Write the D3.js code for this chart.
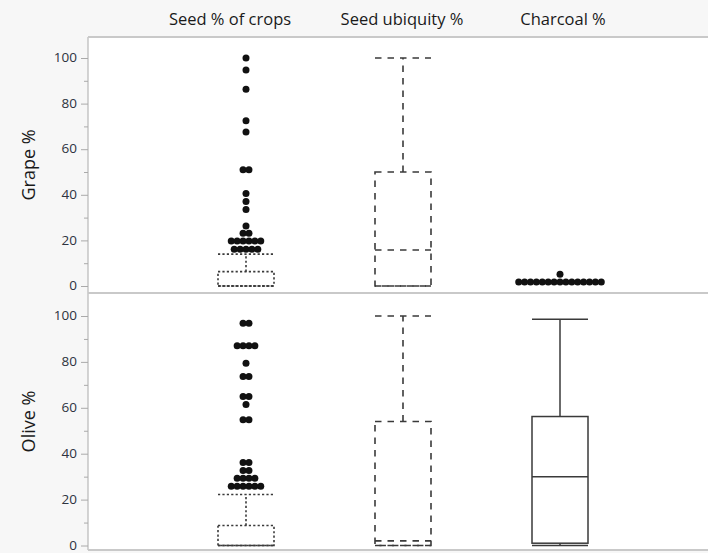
<!DOCTYPE html>
<html><head><meta charset="utf-8">
<script src="https://cdn.jsdelivr.net/npm/d3@7"></script>
<style>
html,body{margin:0;padding:0;background:#f7f7f7;}
svg{display:block;font-family:"Open Sans","Noto Sans",sans-serif;}
</style></head>
<body><svg id="chart" width="708" height="553"></svg>
<script>
// ---- data ----
const columns = ["Seed % of crops", "Seed ubiquity %", "Charcoal %"];
const rowLabels = ["Grape %", "Olive %"];
const yTicks = [0, 20, 40, 60, 80, 100];
const yMinorTicks = [10, 30, 50, 70, 90];
// box stats: [min, q1, median, q3, max]
const grapeSeedBox = [0, 0, 0, 6.3, 14];
const grapeUbiquityBox = [0, 0, 15.8, 50, 100];
const grapeCharcoalBox = null;
const oliveSeedBox = [0, 0, 0, 8.7, 22.2];
const oliveUbiquityBox = [0, 0, 2, 54, 100];
const oliveCharcoalBox = [0, 1, 30, 56.2, 98.6];
// outliers
const grapeSeedOutliers = [100, 94.7, 86.3, 72.5, 67.5, 51, 51, 40.6, 37.1, 33.6, 26.3, 23.1, 23.1,
  19.7, 19.7, 19.7, 19.7, 19.7, 19.7, 16.1, 16.1, 16.1, 16.1, 16.1];
const grapeCharcoalOutliers = [5.1, 1.8, 1.8, 1.8, 1.8, 1.8, 1.8, 1.8, 1.8, 1.8, 1.8, 1.8, 1.8, 1.8, 1.8, 1.8];
const oliveSeedOutliers = [96.8, 96.8, 87, 87, 87, 87, 79.4, 73.6, 73.6, 64.9, 64.9, 61.4, 54.8, 54.8,
  36.2, 36.2, 32.7, 32.7, 29.3, 29.3, 29.3, 29.3, 25.8, 25.8, 25.8, 25.8, 25.8, 25.8];

const panels = [
  {label: rowLabels[0], boxes: [grapeSeedBox, grapeUbiquityBox, grapeCharcoalBox],
   outliers: [grapeSeedOutliers, [], grapeCharcoalOutliers], top: 37, bottom: 293, y0: 286, y100: 58},
  {label: rowLabels[1], boxes: [oliveSeedBox, oliveUbiquityBox, oliveCharcoalBox],
   outliers: [oliveSeedOutliers, [], []], top: 293, bottom: 550, y0: 545.5, y100: 316}
];

// ---- layout ----
const svg = d3.select("#chart");
const left = 88, right = 708;
const x = d3.scalePoint().domain(columns).range([246, 560]);
const boxW = 56;
const styles = [
  {dash: "2.2,2.2", width: 1.6},
  {dash: "6.5,6", width: 1.6},
  {dash: null, width: 1.5}
];
const stroke = "#3a3a3a";
const frame = "#c9c9c9";

// white plot area
svg.append("rect").attr("x", left).attr("y", 37).attr("width", right - left).attr("height", 550 - 37).attr("fill", "#fff");

// headers
svg.selectAll("text.hdr").data(columns).join("text").attr("class", "hdr")
  .attr("x", (d, i) => x(d) + [-16, -1, 3][i]).attr("y", 25).attr("text-anchor", "middle")
  .attr("font-size", 16.5).attr("fill", "#1a1a1a").text(d => d);

panels.forEach(p => {
  const y = d3.scaleLinear().domain([0, 100]).range([p.y0, p.y100]);
  const g = svg.append("g");
  // axis
  const ax = g.append("g").attr("transform", `translate(${left},0)`)
    .call(d3.axisLeft(y).tickValues(yTicks).tickSize(7).tickPadding(4));
  ax.select(".domain").remove();
  ax.selectAll("line").attr("stroke", "#aaa");
  ax.selectAll("text").attr("font-size", 13.5).attr("fill", "#2d3340").attr("font-family", "Open Sans, sans-serif")
    .attr("dy", "0.28em");
  const axm = g.append("g").attr("transform", `translate(${left},0)`)
    .call(d3.axisLeft(y).tickValues(yMinorTicks).tickSize(4).tickFormat(""));
  axm.select(".domain").remove();
  axm.selectAll("line").attr("stroke", "#aaa");
  g.append("line").attr("x1", left).attr("x2", left).attr("y1", p.top).attr("y2", p.bottom)
    .attr("stroke", "#aaa").attr("stroke-width", 1);
  // row label
  g.append("text").attr("transform", `translate(35,${(p.top + p.bottom) / 2}) rotate(-90)`)
    .attr("text-anchor", "middle").attr("font-size", 18).attr("fill", "#1a1a1a").text(p.label);

  // boxes
  p.boxes.forEach((b, i) => {
    if (!b) return;
    const cx = x(columns[i]);
    const st = styles[i];
    const bg = g.append("g").attr("fill", "none").attr("stroke", stroke)
      .attr("stroke-width", st.width).attr("stroke-dasharray", st.dash);
    const [mn, q1, md, q3, mx] = b;
    bg.append("rect").attr("x", cx - boxW / 2).attr("y", y(q3)).attr("width", boxW).attr("height", y(q1) - y(q3));
    bg.append("line").attr("x1", cx - boxW / 2).attr("x2", cx + boxW / 2).attr("y1", y(md)).attr("y2", y(md));
    bg.append("line").attr("x1", cx).attr("x2", cx).attr("y1", y(q3)).attr("y2", y(mx));
    bg.append("line").attr("x1", cx - boxW / 2).attr("x2", cx + boxW / 2).attr("y1", y(mx)).attr("y2", y(mx));
    if (q1 > mn) {
      bg.append("line").attr("x1", cx).attr("x2", cx).attr("y1", y(q1)).attr("y2", y(mn));
    }
    bg.append("line").attr("x1", cx - boxW / 2).attr("x2", cx + boxW / 2).attr("y1", y(mn)).attr("y2", y(mn));
  });

  // outliers, stacked horizontally when equal
  p.outliers.forEach((arr, i) => {
    const cx = x(columns[i]);
    const groups = d3.groups(arr, d => d);
    const pts = [];
    groups.forEach(([v, vals]) => {
      const n = vals.length;
      vals.forEach((d, k) => pts.push({v: d, dx: (k - (n - 1) / 2) * 5.9}));
    });
    g.selectAll(null).data(pts).join("circle")
      .attr("cx", d => cx + d.dx).attr("cy", d => y(d.v)).attr("r", 3.5).attr("fill", "#111");
  });
});

// frame lines
[37, 293, 550].forEach(yy => {
  svg.append("line").attr("x1", left).attr("x2", right).attr("y1", yy).attr("y2", yy)
    .attr("stroke", frame).attr("stroke-width", 2);
});
</script></body></html>
